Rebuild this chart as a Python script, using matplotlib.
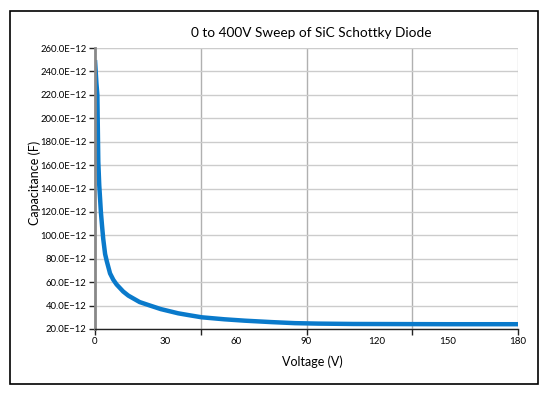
import matplotlib
matplotlib.use("Agg")
import matplotlib.pyplot as plt
from matplotlib.patches import Rectangle
import numpy as np

plt.rcParams['font.family'] = ['Lato', 'DejaVu Sans']

# Data (voltage in V, capacitance in pF)
voltage = [0.0, 0.3, 0.6, 1.0, 1.4, 1.8, 2.2, 2.5, 3.0, 3.5, 4.3, 5.0, 6.4, 7.8,
           9.2, 12.0, 14.2, 19.0, 22.7, 28.0, 35.4, 40.0, 45.4, 55.0, 63.8, 75.0,
           85.0, 95.0, 110.0, 130.0, 150.0, 165.0, 180.0]
capacitance = [249.7, 240.0, 230.0, 220.0, 163.0, 143.0, 130.0, 120.0, 108.0, 97.0,
               84.0, 78.0, 67.5, 62.0, 58.0, 52.0, 48.5, 43.0, 40.5, 37.0, 33.4,
               31.8, 30.0, 28.3, 27.1, 25.9, 25.0, 24.6, 24.3, 24.2, 24.1, 24.1, 24.1]

x_tick_labels = [0, 30, 60, 90, 120, 150, 180]
x_grid = [45, 90, 135]
y_ticks = list(range(20, 261, 20))

fig = plt.figure(figsize=(5.47, 3.93), dpi=100)
fig.patches.append(Rectangle((10/547, 1-384/393), 528/547, 373/393,
                             transform=fig.transFigure, fill=False,
                             edgecolor='black', linewidth=1.2))

ax = fig.add_axes([95/547, 1-329/393, 423/547, 281/393])
ax.plot(voltage, capacitance, color='#0a7acb', linewidth=3.2, solid_capstyle='butt')

ax.set_xlim(0, 180)
ax.set_ylim(20, 260)

# y axis
ax.set_yticks(y_ticks)
ax.set_yticklabels([f"{v:.1f}E\u221212" for v in y_ticks], fontsize=6.8)
ax.yaxis.grid(True, color='#cccccc', linewidth=1.0)
ax.tick_params(axis='y', length=4, width=1, color='#222222', pad=2)

# x axis: major ticks at grid positions (no labels), minor ticks for labels
ax.xaxis.remove_overlapping_locs = False
ax.set_xticks([0] + x_grid + [180])
ax.set_xticklabels([])
ax.set_xticks(x_tick_labels, minor=True)
ax.set_xticklabels([str(v) for v in x_tick_labels], minor=True, fontsize=7)
ax.tick_params(axis='x', which='major', length=4, width=1, color='#222222')
ax.tick_params(axis='x', which='minor', length=0, pad=6)
for xv in x_grid:
    ax.axvline(xv, color='#b0b0b0', linewidth=1.0, zorder=0.5)
ax.axvline(180, color='#cccccc', linewidth=1.0, zorder=0.5)
ax.axhline(260, color='#dddddd', linewidth=1.5, zorder=0.5)

for s in ['top', 'right']:
    ax.spines[s].set_visible(False)
ax.spines['left'].set_color('#888888')
ax.spines['left'].set_linewidth(2)
ax.spines['bottom'].set_color('#222222')
ax.spines['bottom'].set_linewidth(1)
ax.set_axisbelow(True)

ax.set_xlabel('Voltage (V)', fontsize=9)
ax.xaxis.set_label_coords((312-95)/423, -(362-329)/281)
ax.xaxis.label.set_va('center')
ax.set_ylabel('Capacitance (F)', fontsize=9)
ax.yaxis.set_label_coords((35-95)/423, (329-183)/281)
ax.yaxis.label.set_va('center')
fig.text(311.5/547, 1-33/393, '0 to 400V Sweep of SiC Schottky Diode',
         ha='center', va='center', fontsize=9.8)

fig.savefig('out.png', dpi=100)
